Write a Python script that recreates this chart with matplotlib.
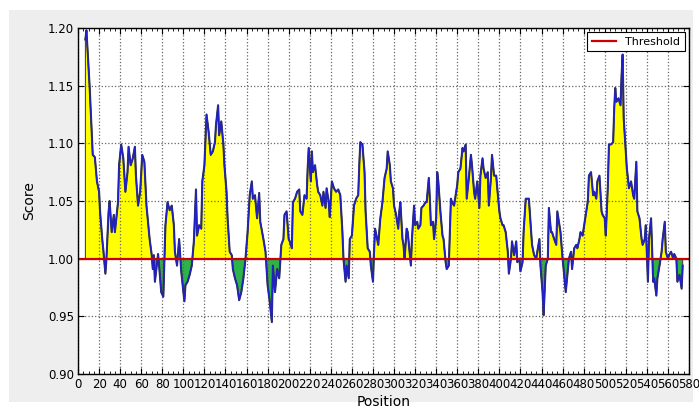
import numpy as np
import matplotlib
matplotlib.use("Agg")
import matplotlib.pyplot as plt
from matplotlib.patches import Rectangle
from matplotlib.ticker import MultipleLocator

# residue position / score
position = [
    7, 8, 11, 14, 16, 18, 20, 21, 23, 24, 26, 27, 29, 30, 32, 34, 35, 38, 39, 41,
    43, 45, 47, 48, 50, 52, 54, 55, 57, 59, 61, 63, 65, 68, 70, 71, 72, 73, 76, 77,
    79, 81, 83, 85, 87, 89, 91, 92, 94, 96, 98, 101, 102, 104, 106, 108, 110, 112, 113, 115,
    117, 118, 120, 122, 124, 126, 128, 130, 131, 133, 134, 136, 138, 139, 141, 142, 144, 146, 147, 149,
    151, 153, 155, 157, 159, 161, 163, 165, 166, 168, 170, 172, 173, 176, 178, 180, 182, 184, 185, 187,
    189, 191, 193, 195, 196, 198, 200, 201, 203, 204, 206, 208, 210, 211, 213, 215, 217, 218, 219, 221,
    222, 223, 225, 227, 228, 230, 232, 233, 235, 236, 238, 239, 241, 243, 245, 247, 249, 251, 252, 254,
    255, 257, 258, 260, 262, 264, 266, 267, 268, 270, 272, 273, 275, 277, 278, 280, 281, 282, 284, 285,
    287, 289, 291, 293, 294, 296, 297, 299, 300, 302, 304, 305, 306, 308, 309, 310, 312, 313, 315, 316,
    317, 319, 320, 322, 323, 325, 326, 328, 330, 331, 333, 334, 335, 337, 338, 340, 341, 342, 344, 346,
    347, 349, 350, 352, 354, 355, 357, 358, 360, 361, 363, 365, 366, 368, 369, 371, 373, 374, 376, 377,
    379, 381, 382, 384, 385, 387, 389, 390, 392, 393, 395, 397, 398, 400, 401, 403, 404, 406, 408, 409,
    411, 412, 414, 416, 417, 419, 420, 422, 423, 425, 427, 428, 430, 431, 433, 435, 436, 438, 439, 441,
    442, 444, 446, 447, 449, 450, 452, 454, 455, 457, 458, 460, 461, 463, 465, 466, 468, 469, 471, 473,
    474, 476, 477, 479, 481, 482, 484, 485, 487, 489, 490, 492, 493, 495, 497, 498, 500, 501, 503, 504,
    506, 508, 509, 510, 511, 513, 515, 516, 517, 518, 520, 521, 522, 523, 525, 527, 528, 530, 531, 533,
    535, 536, 538, 539, 541, 542, 544, 546, 547, 549, 550, 552, 554, 555, 557, 558, 560, 561, 563, 565,
    566, 568, 569, 571, 573, 574,
]
score = [
    1.190, 1.198, 1.150, 1.090, 1.088, 1.067, 1.058, 1.040, 1.017, 1.008, 0.987, 1.000, 1.040, 1.050, 1.023, 1.038, 1.023, 1.049, 1.081, 1.099,
    1.087, 1.058, 1.075, 1.097, 1.081, 1.087, 1.097, 1.072, 1.046, 1.058, 1.090, 1.084, 1.046, 1.017, 1.003, 0.991, 1.003, 0.980, 1.004, 0.994,
    0.971, 0.967, 1.029, 1.049, 1.042, 1.046, 1.029, 1.006, 0.994, 1.017, 0.989, 0.963, 0.977, 0.980, 0.986, 0.994, 1.015, 1.060, 1.020, 1.029,
    1.026, 1.067, 1.081, 1.125, 1.110, 1.090, 1.093, 1.101, 1.116, 1.133, 1.107, 1.119, 1.099, 1.081, 1.058, 1.035, 1.006, 1.003, 0.991, 0.983,
    0.977, 0.964, 0.971, 0.983, 1.000, 1.023, 1.055, 1.067, 1.052, 1.055, 1.035, 1.057, 1.032, 1.017, 1.006, 0.977, 0.963, 0.945, 0.994, 0.971,
    0.991, 0.983, 1.012, 1.017, 1.038, 1.041, 1.017, 1.015, 1.009, 1.049, 1.052, 1.058, 1.060, 1.041, 1.038, 1.055, 1.052, 1.078, 1.096, 1.067,
    1.093, 1.075, 1.081, 1.064, 1.058, 1.055, 1.046, 1.058, 1.044, 1.061, 1.049, 1.036, 1.067, 1.061, 1.058, 1.060, 1.055, 1.023, 1.000, 0.980,
    0.994, 0.983, 1.017, 1.020, 1.046, 1.052, 1.055, 1.081, 1.101, 1.099, 1.075, 1.041, 1.009, 1.006, 0.994, 0.980, 1.006, 1.026, 1.017, 1.012,
    1.035, 1.049, 1.070, 1.078, 1.093, 1.081, 1.067, 1.061, 1.046, 1.038, 1.026, 1.041, 1.049, 1.017, 1.012, 1.000, 1.026, 1.023, 1.003, 0.994,
    1.017, 1.046, 1.029, 1.032, 1.026, 1.029, 1.044, 1.046, 1.049, 1.049, 1.070, 1.052, 1.029, 1.032, 1.017, 1.035, 1.075, 1.067, 1.041, 1.020,
    1.017, 0.997, 0.991, 0.994, 1.052, 1.049, 1.046, 1.052, 1.064, 1.075, 1.078, 1.096, 1.093, 1.099, 1.052, 1.070, 1.090, 1.081, 1.058, 1.052,
    1.067, 1.044, 1.072, 1.087, 1.078, 1.070, 1.075, 1.046, 1.070, 1.090, 1.072, 1.072, 1.061, 1.041, 1.035, 1.029, 1.029, 1.023, 1.006, 0.987,
    1.000, 1.015, 1.003, 1.015, 0.997, 1.000, 0.989, 0.997, 1.023, 1.052, 1.052, 1.052, 1.026, 1.012, 1.003, 1.000, 1.006, 1.017, 0.994, 0.971,
    0.951, 0.994, 1.000, 1.044, 1.023, 1.023, 1.017, 1.012, 1.041, 1.029, 1.023, 1.000, 0.991, 0.971, 0.991, 1.000, 1.006, 0.991, 1.009, 1.012,
    1.009, 1.017, 1.023, 1.020, 1.032, 1.038, 1.050, 1.072, 1.075, 1.055, 1.058, 1.052, 1.067, 1.072, 1.041, 1.038, 1.035, 1.020, 1.064, 1.099,
    1.099, 1.101, 1.130, 1.148, 1.136, 1.139, 1.133, 1.159, 1.177, 1.122, 1.093, 1.078, 1.070, 1.061, 1.067, 1.055, 1.052, 1.084, 1.041, 1.035,
    1.017, 1.012, 1.017, 1.029, 0.980, 1.017, 1.035, 0.980, 0.983, 0.968, 0.983, 0.994, 1.006, 1.017, 1.032, 1.006, 1.000, 1.003, 1.006, 1.000,
    1.004, 1.000, 0.980, 0.986, 0.974, 0.994,
]
threshold = 1.0

x = np.array(position, dtype=float)
y = np.array(score)

fig = plt.figure(figsize=(6.99, 4.12), dpi=100)
fig.patch.set_facecolor("white")
fig.patches.append(Rectangle((9 / 699, 10 / 412), 684 / 699, 392 / 412,
                             transform=fig.transFigure, facecolor="#eeeeee",
                             edgecolor="none", zorder=-10))

ax = fig.add_axes([78 / 699, 38 / 412, 611 / 699, 346 / 412])
ax.set_facecolor("white")

ax.fill_between(x, y, threshold, where=y >= threshold, interpolate=True,
                facecolor="#ffff00", edgecolor="#333333", linewidth=0.7, zorder=2)
ax.fill_between(x, y, threshold, where=y <= threshold, interpolate=True,
                facecolor="#2cb34a", edgecolor="#333333", linewidth=0.7, zorder=2)
ax.plot(x, y, color="#3a3a3a", linewidth=1.5, zorder=3)
ax.plot(x, y, color="#2020c8", linewidth=1.0, zorder=4)
ax.axhline(threshold, color="#cc0000", linewidth=1.6, zorder=5, label="Threshold")

ax.set_xlim(0, 580)
ax.set_ylim(0.90, 1.20)
ax.xaxis.set_major_locator(MultipleLocator(20))
ax.xaxis.set_minor_locator(MultipleLocator(5))
ax.yaxis.set_major_locator(MultipleLocator(0.05))
ax.yaxis.set_major_formatter(matplotlib.ticker.FormatStrFormatter("%.2f"))
ax.tick_params(which="both", direction="in", top=True, right=True, labelsize=8.5, pad=3)
ax.tick_params(which="major", length=4)
ax.tick_params(which="minor", length=2)
ax.grid(True, which="major", color="#666666", linestyle=":", linewidth=0.9, zorder=1)
ax.set_axisbelow(False)
for sp in ax.spines.values():
    sp.set_linewidth(1.0)
    sp.set_zorder(6)

ax.set_xlabel("Position", fontsize=10, labelpad=3)
ax.set_ylabel("Score", fontsize=10, labelpad=8)

leg = ax.legend(loc="upper right", fontsize=8, fancybox=False, framealpha=1,
                edgecolor="black", handlelength=2.2, borderaxespad=0.4)
leg.get_frame().set_linewidth(0.8)

fig.savefig("out.png", dpi=100, facecolor=fig.get_facecolor())
